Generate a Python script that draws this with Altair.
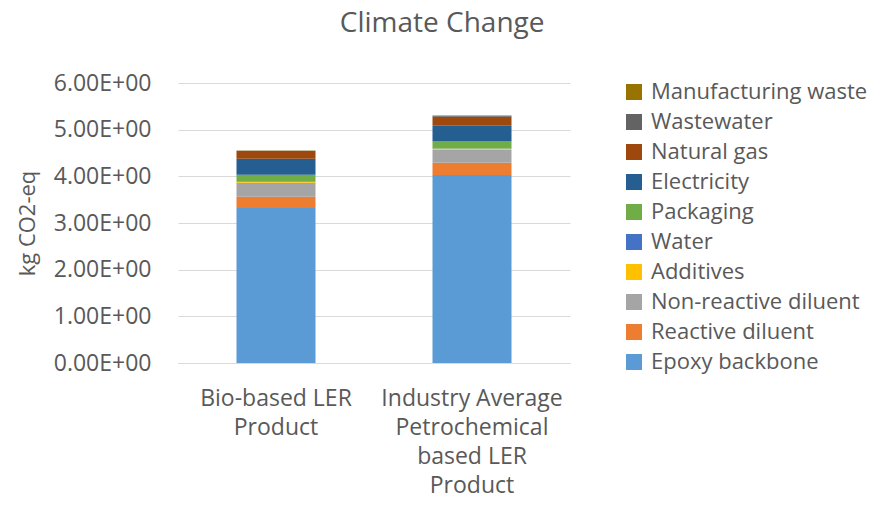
import altair as alt
import pandas as pd

categories = ["Bio-based LER Product", "Industry Average Petrochemical based LER Product"]
components = ["Epoxy backbone", "Reactive diluent", "Non-reactive diluent", "Additives",
              "Water", "Packaging", "Electricity", "Natural gas", "Wastewater", "Manufacturing waste"]
bio_values = [3.32, 0.24, 0.30, 0.02, 0.005, 0.15, 0.34, 0.17, 0.005, 0.003]
petro_values = [4.03, 0.26, 0.28, 0.02, 0.005, 0.15, 0.34, 0.19, 0.02, 0.01]
colors = ["#5B9BD5", "#ED7D31", "#A5A5A5", "#FFC000", "#4472C4",
          "#70AD47", "#255E91", "#9E480E", "#636363", "#997300"]

rows = []
for cat, vals in zip(categories, [bio_values, petro_values]):
    for i, (comp, v) in enumerate(zip(components, vals)):
        rows.append({"product": cat, "component": comp, "value": v, "idx": i})
df = pd.DataFrame(rows)

legend_order = components[::-1]
legend_colors = colors[::-1]

FONT = "Open Sans"
TXT = "#595959"

label_expr = ("datum.value == 'Bio-based LER Product' ? ['Bio-based LER', 'Product'] : "
              "['Industry Average', 'Petrochemical', 'based LER', 'Product']")

chart = alt.Chart(df).mark_bar(size=79).encode(
    x=alt.X("product:N", sort=categories, title=None,
            scale=alt.Scale(paddingInner=0.6, paddingOuter=0.3),
            axis=alt.Axis(labelAngle=0, labelExpr=label_expr, labelFontSize=23,
                          labelLineHeight=29, labelPadding=24, ticks=False, labelLimit=400,
                          domainColor="#D9D9D9", labelColor=TXT, labelFont=FONT)),
    y=alt.Y("value:Q", title="kg CO2-eq", stack="zero",
            scale=alt.Scale(domain=[0, 6], nice=False),
            axis=alt.Axis(values=[0, 1, 2, 3, 4, 5, 6],
                          labelExpr="format(datum.value, '.2f') + 'E+00'",
                          labelFontSize=23, labelPadding=27, ticks=False, domain=False,
                          gridColor="#D9D9D9", labelColor=TXT, labelFont=FONT,
                          titleFont=FONT, titleFontSize=22, titleFontWeight="normal",
                          titleColor=TXT, titlePadding=14)),
    color=alt.Color("component:N",
                    scale=alt.Scale(domain=legend_order, range=legend_colors),
                    legend=alt.Legend(title=None, orient="none", legendX=445, legendY=-2,
                                      symbolType="square", symbolSize=256,
                                      symbolStrokeWidth=0, labelFontSize=22,
                                      labelFont=FONT, labelColor=TXT, rowPadding=8,
                                      labelOffset=6, labelLimit=400)),
    order=alt.Order("idx:Q", sort="ascending"),
).properties(
    width=392, height=280,
    title=alt.TitleParams("Climate Change", fontSize=28, font=FONT, fontWeight="normal",
                          color=TXT, anchor="middle", frame="bounds", offset=34),
    autosize=alt.AutoSizeParams(type="none"),
    padding={"left": 170, "top": 75, "right": 306, "bottom": 137},
).configure_view(stroke=None)

chart.save("out.html", embed_options={"renderer": "svg", "actions": False})
